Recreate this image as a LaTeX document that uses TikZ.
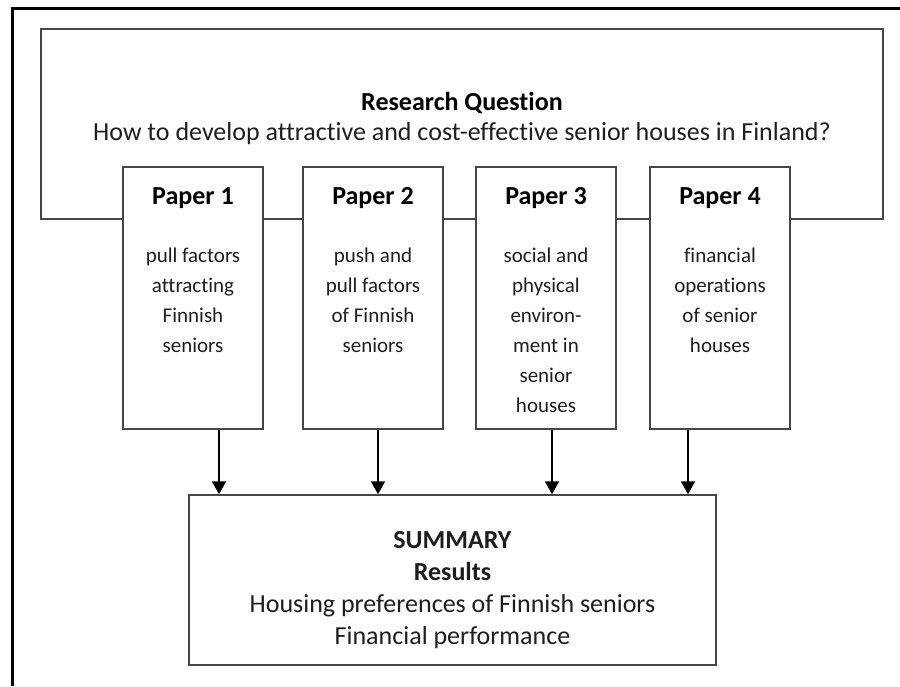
\documentclass[tikz,border=0pt]{standalone}
\usepackage{fontspec}
\setmainfont{Carlito}[Ligatures=NoCommon]
\usetikzlibrary{arrows.meta,positioning,calc}
\definecolor{boxline}{RGB}{70,70,70}
\definecolor{ink}{RGB}{30,30,30}
\begin{document}
\begin{tikzpicture}[x=1pt, y=-1pt,
  box/.style={draw=boxline, line width=1.5pt, fill=white, inner sep=0pt},
  paper/.style={box, minimum width=140pt, minimum height=262pt},
  big/.style={font=\fontsize{26}{32}\selectfont, text=ink},
  head/.style={font=\fontsize{26}{32}\selectfont\bfseries, anchor=base},
  body/.style={font=\fontsize{21}{30}\selectfont, text=ink, align=center, anchor=north, inner sep=0pt},
  feed/.style={draw=black, line width=2pt, -{Triangle[length=13pt,width=14pt]}}]
\useasboundingbox (0,0) rectangle (900,686);
\draw[line width=3pt] (12,686) -- (12,8) -- (900,8);

\node[box, minimum width=842pt, minimum height=190pt] (rq) at (462,124) {};
\node[head] (rqhead) at (462,110) {Research Question};
\node[big, anchor=base] (rqtext) at (462,140) {How to develop attractive and cost-effective senior houses in Finland?};

\foreach \n/\x/\txt in {
  1/193/{pull factors\\attracting\\Finnish\\seniors},
  2/373/{push and\\pull factors\\of Finnish\\seniors},
  3/546/{social and\\physical\\environ-\\ment in\\senior\\houses},
  4/720/{financial\\operations\\of senior\\houses}}
{
  \node[paper] (p\n) at (\x,298) {};
  \node[head] (p\n head) at ($(p\n.north)+(0,38)$) {Paper \n};
  \node[body] (p\n body) at ($(p\n.north)+(0,81)$) {\txt};
}

\node[box, minimum width=527pt, minimum height=170pt] (sum) at (452.5,580) {};
\node[big, align=center, anchor=north, inner sep=0pt] (sumtext) at (452.5,531)
  {\textbf{SUMMARY}\\\textbf{Results}\\Housing preferences of Finnish seniors\\Financial performance};

\foreach \n/\x in {1/219, 2/378, 3/552, 4/688}
{
  \coordinate (a\n) at (\x,0);
  \draw[feed] (p\n.south -| a\n) -- (sum.north -| a\n);
}
\end{tikzpicture}
\end{document}
